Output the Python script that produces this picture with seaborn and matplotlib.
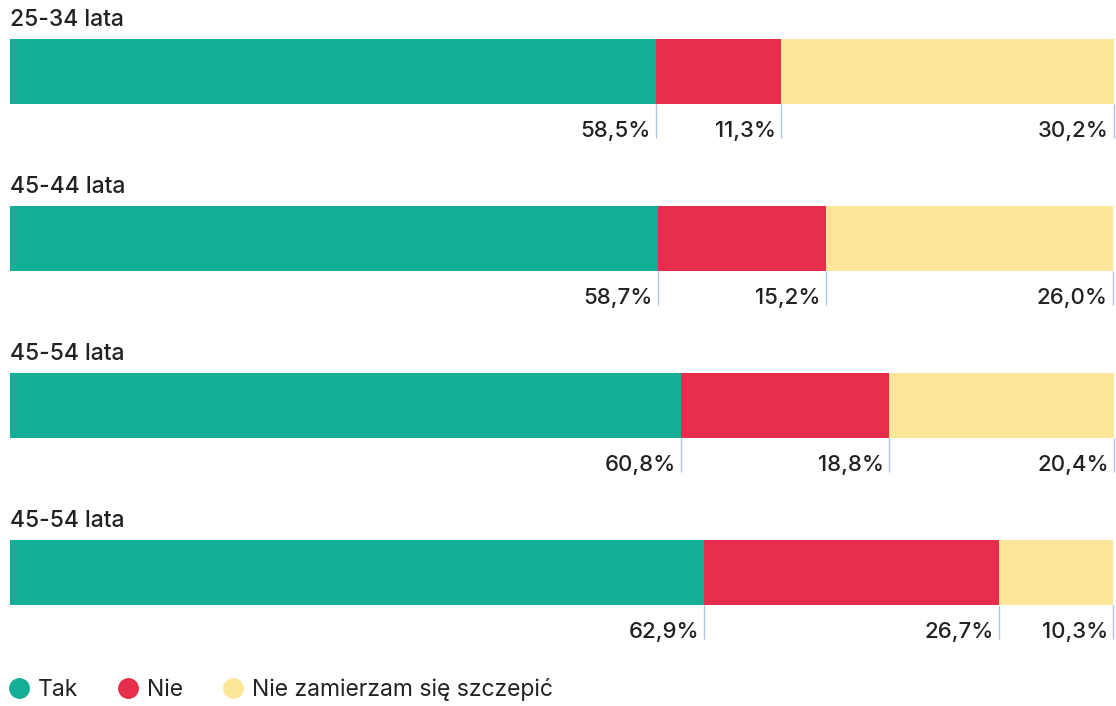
import matplotlib
matplotlib.use("Agg")
import matplotlib.pyplot as plt
from matplotlib.lines import Line2D
import numpy as np
import pandas as pd
import seaborn as sns

groups = ["25-34 lata", "45-44 lata", "45-54 lata", "45-54 lata"]
tak = [58.5, 58.7, 60.8, 62.9]
nie = [11.3, 15.2, 18.8, 26.7]
nie_zamierzam = [30.2, 26.0, 20.4, 10.3]
series_names = ["Tak", "Nie", "Nie zamierzam się szczepić"]
colors = ["#13AE96", "#E52D4D", "#FCE699"]

sns.set_theme(style="white")
plt.rcParams["font.family"] = ["Inter", "DejaVu Sans"]

TEXT = "#222222"
LINE = "#A9C8E8"
BAR_H = 65 / 167

df = pd.DataFrame({"pos": range(len(groups)), "tak": tak, "nie": nie, "niez": nie_zamierzam})
df["c1"] = df["tak"]
df["c2"] = df["tak"] + df["nie"]
df["c3"] = df["c2"] + df["niez"]

fig = plt.figure(figsize=(11.16, 7.06), dpi=100)
ax = fig.add_axes([10 / 1116, 0, 1104 / 1116, 1])

# stacked bars: draw from longest cumulative to shortest
for col, color in zip(["c3", "c2", "c1"], colors[::-1]):
    sns.barplot(data=df, x=col, y="pos", orient="h", color=color, saturation=1,
                width=BAR_H, linewidth=0, ax=ax)

ax.set_xlim(0, 100)
ax.set_ylim(3.799, -0.428)
ax.axis("off")

for i, row in df.iterrows():
    ax.text(0, i - 0.31, groups[i], ha="left", va="center", fontsize=16.5,
            color=TEXT, fontweight="medium")
    vals = [row["tak"], row["nie"], row["niez"]]
    ends = [row["c1"], row["c2"], row["c3"]]
    for v, e in zip(vals, ends):
        ax.vlines(e, i + BAR_H / 2, i + 0.40, color=LINE, lw=1, clip_on=False)
        ax.text(e - 0.45, i + 0.355, f"{v:.1f}".replace(".", ",") + "%",
                ha="right", va="center", fontsize=16, color=TEXT,
                fontweight="medium")

handles = [Line2D([], [], marker="o", ls="", markersize=14, markerfacecolor=c,
                  markeredgecolor=c) for c in colors]
fig.legend(handles, series_names, loc="lower left", bbox_to_anchor=(-0.012, -0.022),
           ncol=3, frameon=False, fontsize=16.5, handletextpad=0.35, columnspacing=1.65,
           handlelength=1.0, labelcolor=TEXT)

fig.savefig("out.png", dpi=100)
